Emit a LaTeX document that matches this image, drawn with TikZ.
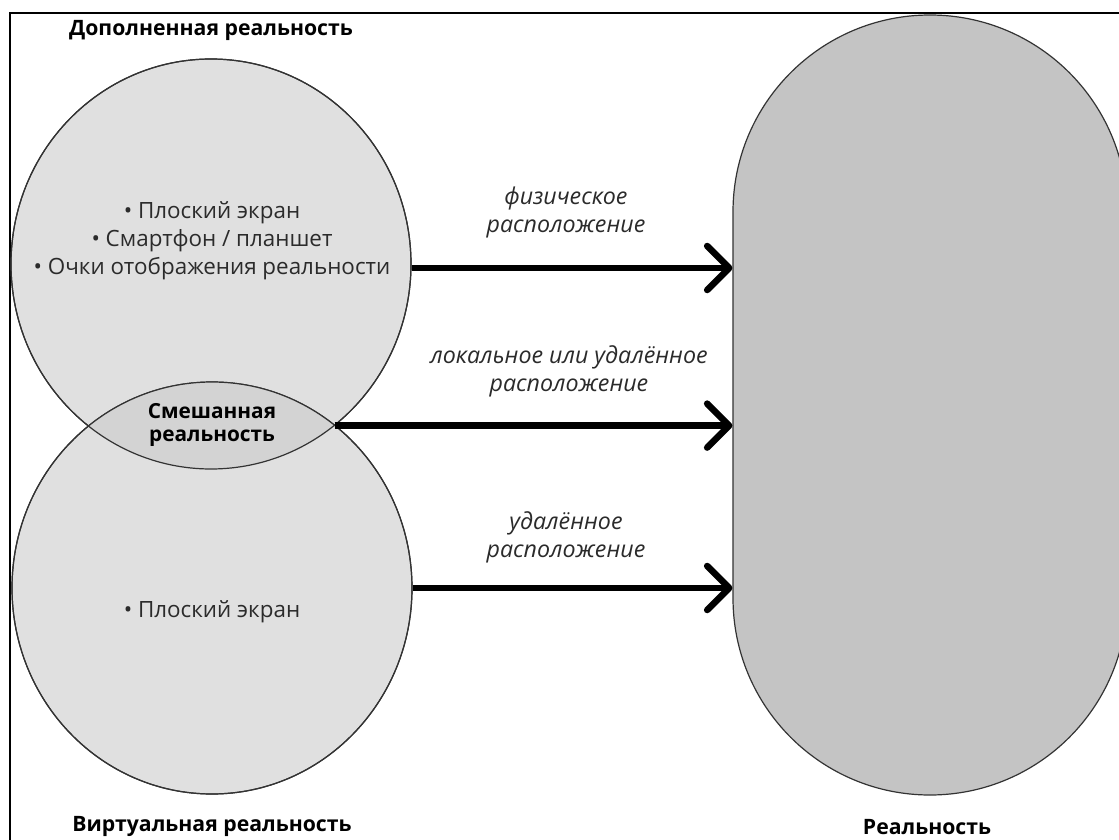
\documentclass[tikz,border=0pt]{standalone}
\usepackage{fontspec}
\setmainfont{Open Sans}
\usetikzlibrary{shapes.geometric,arrows.meta}
\definecolor{circfill}{HTML}{E0E0E0}
\definecolor{lensfill}{HTML}{D3D3D3}
\definecolor{realfill}{HTML}{C4C4C4}
\definecolor{outl}{HTML}{333333}
\definecolor{txt}{HTML}{2B2B2B}
\tikzset{
  circ/.style={ellipse, draw=outl, line width=1.2pt, fill=circfill, minimum width=400pt, inner sep=0pt},
  realbox/.style={rectangle, draw=outl, line width=1.2pt, fill=realfill, rounded corners=196.9pt, minimum width=394pt, minimum height=780pt, inner sep=0pt},
  title/.style={font=\bfseries\fontsize{21.2}{24}\selectfont, text=black, inner sep=0pt},
  body/.style={font=\fontsize{22.4}{28}\selectfont, text=txt, align=center, inner sep=0pt},
  lbl/.style={font=\itshape\fontsize{23.2}{28}\selectfont, text=txt, align=center, inner sep=0pt},
  mix/.style={font=\bfseries\fontsize{20.8}{23}\selectfont, text=black, align=center, inner sep=0pt},
  arr/.style={line width=6.5pt, -{Straight Barb[length=22pt,width=44pt,line cap=round,line join=round]}}
}
\begin{document}
\begin{tikzpicture}[x=1pt,y=-1pt]
\clip (0,0) rectangle (1119,840);
\useasboundingbox (0,0) rectangle (1119,840);
\fill[white] (0,0) rectangle (1119,840);
% frame (cropped on right and bottom)
\draw[line width=2pt] (10,13) rectangle (1140,860);
% circles
\node[circ, minimum height=410pt] (ar) at (211,264) {};
\node[circ, minimum height=412pt] (vr) at (212,588) {};
% lens
\begin{scope}
  \clip (211,264) ellipse [x radius=200pt, y radius=205pt];
  \fill[lensfill] (212,588) ellipse [x radius=200pt, y radius=206pt];
\end{scope}
\draw[outl, line width=1.2pt] (211,264) ellipse [x radius=200pt, y radius=205pt];
\draw[outl, line width=1.2pt] (212,588) ellipse [x radius=200pt, y radius=206pt];
\coordinate (lensR) at (334.5,425.6);
% reality
\node[realbox] (real) at (930,405) {};
% texts
\node[title] (tAR) at (211,30) {Дополненная реальность};
\node[title] (tVR) at (212,826) {Виртуальная реальность};
\node[title] (tR) at (927,827) {Реальность};
\node[body] (bAR) at (212,241) {• Плоский экран\\• Смартфон / планшет\\• Очки отображения реальности};
\node[body] (bVR) at (212,612) {• Плоский экран};
\node[mix] (mx) at (212,425) {Смешанная\\реальность};
% arrows
\draw[arr] (ar.east |- 0,268) -- (real.west |- 0,268);
\draw[arr] (lensR) -- (real.west |- lensR);
\draw[arr] (vr.east) -- (real.west |- vr.east);
% labels
\node[lbl] (l1) at (566,212) {физическое\\расположение};
\node[lbl] (l2) at (569,371) {локальное или удалённое\\расположение};
\node[lbl] (l3) at (566,537) {удалённое\\расположение};
\end{tikzpicture}
\end{document}
